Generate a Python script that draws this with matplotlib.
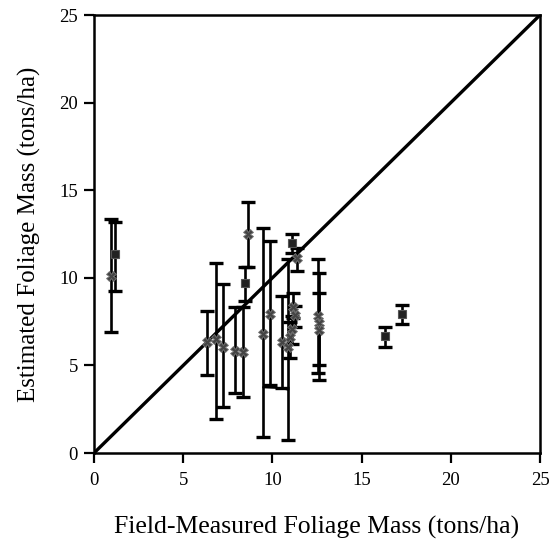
import numpy as np
import matplotlib
matplotlib.use('Agg')
import matplotlib.pyplot as plt

plt.rcParams['font.family'] = ['Liberation Serif', 'DejaVu Serif']

# field-measured (x), estimated (y), error bar limits (lo, hi), marker kind
x_meas = [0.93, 1.15, 6.32, 6.84, 7.25, 7.90, 8.37, 8.46, 8.65,
          9.49, 9.87, 10.52, 10.86, 11.08, 11.36,
          11.15, 11.25, 11.10, 11.00,
          12.55, 12.60, 12.62, 16.31, 17.25]
y_est = [10.1, 11.35, 6.32, 6.5, 6.05, 5.85, 5.76, 9.73, 12.48,
         6.8, 7.94, 6.32, 6.04, 12.0, 11.15,
         8.35, 7.85, 7.05, 6.6,
         7.8, 7.4, 7.0, 6.7, 7.94]
y_lo = [6.89, 9.26, 4.43, 1.95, 2.6, 3.43, 3.2, 8.69, 10.6,
        0.93, 3.86, 3.7, 0.74, 11.44, 10.4,
        7.7, 7.2, 6.25, 5.4,
        4.55, 4.15, 5.0, 6.04, 7.37]
y_hi = [13.33, 13.2, 8.12, 10.87, 9.64, 8.35, 8.35, 10.59, 14.3,
        12.86, 12.1, 8.98, 11.06, 12.48, 11.7,
        9.12, 8.4, 7.8, 7.5,
        11.06, 10.3, 9.16, 7.18, 8.47]
kind = ['x', 's', 'x', 'x', 'x', 'x', 'x', 's', 'x',
        'x', 'x', 'x', 'x', 's', 'x',
        'x', 'x', 'x', 'x',
        'x', 'x', 'x', 's', 's']

fig = plt.figure(figsize=(5.55, 5.46), dpi=100)
ax = fig.add_axes([0.1694, 0.1703, 0.8036, 0.8022])

# 1:1 line
ax.plot([0, 25], [0, 25], color='black', lw=2.4, zorder=3)

for i in range(len(x_meas)):
    err = [[y_est[i] - y_lo[i]], [y_hi[i] - y_est[i]]]
    ax.errorbar(x_meas[i], y_est[i], yerr=err, fmt='none', ecolor='black',
                elinewidth=1.9, capsize=4.8, capthick=2.4, zorder=2)
    if kind[i] == 's':
        ax.plot(x_meas[i], y_est[i], marker='s', ms=5.5, color='#222222',
                mec='#555555', mew=0.8, zorder=4)
    else:
        ax.plot(x_meas[i], y_est[i], marker='X', ms=7, color='#444444',
                mec='#777777', mew=0.6, zorder=4)

# the joined lower caps near 3.7
ax.plot([9.49, 10.52, 10.86], [3.75, 3.7, 3.62], color='black', lw=1.4, zorder=2)

ax.set_xlim(0, 25)
ax.set_ylim(0, 25)
ax.set_xticks([0, 5, 10, 15, 20, 25])
ax.set_yticks([0, 5, 10, 15, 20, 25])
for s in ax.spines.values():
    s.set_linewidth(1.8)
ax.tick_params(direction='out', length=7.5, width=1.6, labelsize=13.5)
ax.tick_params(axis='x', pad=6.5)
ax.tick_params(axis='y', pad=4)
ax.set_xlabel('Field-Measured Foliage Mass (tons/ha)', fontsize=18.5, labelpad=19)
ax.set_ylabel('Estimated Foliage Mass (tons/ha)', fontsize=18, labelpad=13)

plt.savefig('out.png', dpi=100)
